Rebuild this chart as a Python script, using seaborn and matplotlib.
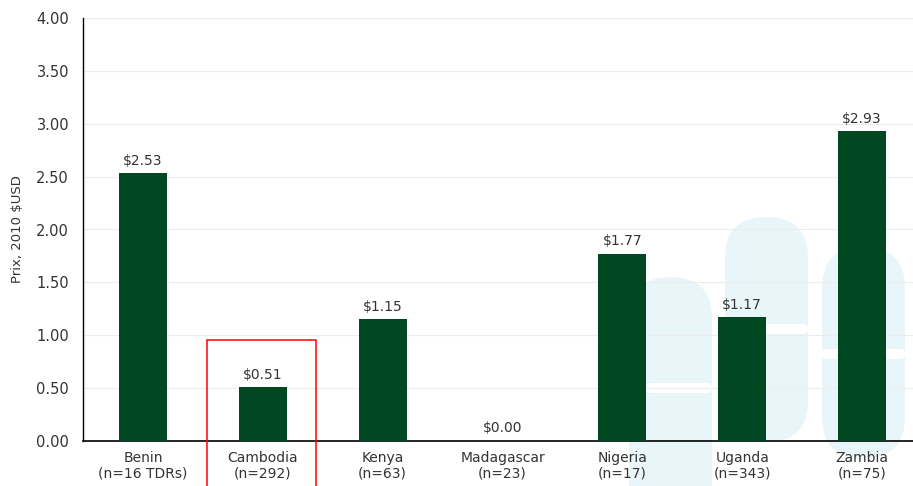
import numpy as np
import pandas as pd
import matplotlib
matplotlib.use("Agg")
import matplotlib.pyplot as plt
import seaborn as sns
from matplotlib.patches import FancyBboxPatch, Rectangle
from matplotlib.transforms import IdentityTransform

# data
countries = ["Benin", "Cambodia", "Kenya", "Madagascar", "Nigeria", "Uganda", "Zambia"]
sample_sizes = ["n=16 TDRs", "n=292", "n=63", "n=23", "n=17", "n=343", "n=75"]
prices = [2.53, 0.51, 1.15, 0.00, 1.77, 1.17, 2.93]
yticks = [0, 0.5, 1.0, 1.5, 2.0, 2.5, 3.0, 3.5, 4.0]

df = pd.DataFrame({"country": countries, "price": prices})

sns.set_style("white")
plt.rcParams["font.family"] = ["DejaVu Sans"]

fig = plt.figure(figsize=(9.13, 4.86), dpi=100)
ax = fig.add_axes([83 / 913, 45 / 486, 839 / 913, 423 / 486])
ax.patch.set_alpha(0)

# light blue capsule watermark in the background (pixel coords)
pill_col = "#e8f6fa"
for x0, top, bot in [(629, 277, 560), (725, 217, 442), (822, 247, 458)]:
    w = 83
    p = FancyBboxPatch((x0, 486 - bot), w, bot - top,
                       boxstyle="round,pad=0,rounding_size=41",
                       transform=IdentityTransform(), facecolor=pill_col,
                       edgecolor="none", zorder=-2)
    fig.patches.append(p)
for x0, x1, yc in [(645, 712, 388), (725, 808, 329), (822, 905, 354)]:
    s = FancyBboxPatch((x0, 486 - yc - 5), x1 - x0, 10,
                       boxstyle="round,pad=0,rounding_size=5",
                       transform=IdentityTransform(), facecolor="white",
                       edgecolor="none", zorder=-1)
    fig.patches.append(s)

sns.barplot(data=df, x="country", y="price", color="#004822", width=0.4,
            saturation=1, linewidth=0, ax=ax, zorder=3)

for i, v in enumerate(prices):
    ax.annotate("${:.2f}".format(v), (i, v), xytext=(0, 4), textcoords="offset points",
                ha="center", va="bottom", fontsize=10, color="#333333")

ax.set_xlim(-0.5, 6.5)
ax.set_ylim(0, 4)
ax.set_yticks(yticks)
ax.set_yticklabels(["{:.2f}".format(t) for t in yticks])
ax.set_xticks(range(len(countries)))
ax.set_xticklabels([c + "\n(" + n + ")" for c, n in zip(countries, sample_sizes)])
ax.set_xticks(np.arange(-0.5, 7, 1), minor=True)
ax.tick_params(axis="x", which="major", length=0, pad=7, labelsize=10, labelcolor="#333333")
ax.tick_params(axis="x", which="minor", length=5, color="#cccccc", width=0.8)
ax.tick_params(axis="y", length=0, pad=10, labelsize=10.5, labelcolor="#333333")

ax.grid(axis="y", color="#ececec", linewidth=0.8)
ax.set_axisbelow(True)
sns.despine(ax=ax, top=True, right=True)
ax.spines["left"].set_color("black")
ax.spines["bottom"].set_color("black")
ax.spines["left"].set_linewidth(1.0)
ax.spines["bottom"].set_linewidth(1.2)

ax.set_xlabel("")
ax.set_ylabel("Prix, 2010 $USD", fontsize=9.5, color="#333333", labelpad=9)

# red highlight box around Cambodia
ax.add_patch(Rectangle((0.533, -1.0), 0.909, 1.955, fill=False, edgecolor="red",
                       linewidth=1.1, clip_on=False, zorder=5))

fig.savefig("out.png", dpi=100)
